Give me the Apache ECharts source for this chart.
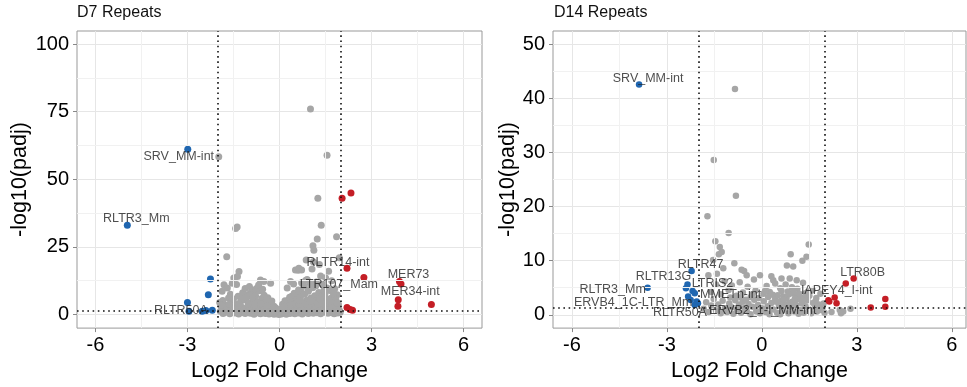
<!DOCTYPE html>
<html>
<head>
<meta charset="utf-8">
<script src="https://cdn.jsdelivr.net/npm/echarts@6/dist/echarts.min.js"></script>
<style>
html, body { margin: 0; padding: 0; background: #fff; }
#main { width: 967px; height: 387px; }
</style>
</head>
<body>
<div id="main"></div>
<script>
// ---- data ----
const xTicks = [-6, -3, 0, 3, 6];
const xMinor = [-4.5, -1.5, 1.5, 4.5];
const d7YTicks = [0, 25, 50, 75, 100];
const d7YMinor = [12.5, 37.5, 62.5, 87.5];
const d14YTicks = [0, 10, 20, 30, 40, 50];
const d14YMinor = [5, 15, 25, 35, 45];
const lfcCut = 2;
const padjCut = 1.3; // -log10(0.05)

const d7Grey = [
	[1.01,76.0],[1.55,58.9],[-1.98,58.3],[1.25,43.0],[1.36,33.0],[1.23,27.9],[1.86,28.8],[1.09,25.4],[1.12,23.8],
	[-1.43,31.8],[-1.38,32.4],[-1.72,21.4],[-1.32,15.9],[-1.37,14.1],[-1.40,11.1],[0.61,16.4],[0.72,16.5],[0.46,11.3],
	[0.87,20.2],[1.06,16.8],[1.34,14.3],[1.6,16.0],[1.95,21.0],[1.1,19.5],[1.3,18.5],[1.7,12.5],[1.5,13.6],[1.8,9.5],
	[1.2,12.0],[-0.62,12.8],[-0.51,12.2],[-0.29,11.6],[-0.89,9.2],[-0.73,9.8],[-0.8,8.5],[-0.95,8.0],[-1.1,7.2],
	[-1.49,13.5],[-1.54,11.6],[-1.81,11.0],[-1.87,8.6],[-1.95,4.5],[-1.7,9.8],[-1.6,7.5],[0.52,16.5],[0.63,17.1],
	[0.36,12.2],[0.25,9.8],[1.55,9.8],[1.88,7.3],[1.77,4.9],[0.9,13.0],[0.8,10.5],[0.95,9.2],[1.0,11.5],[0.7,8.5],
	[0.55,7.5],[0.4,6.8],[0.3,5.5],[0.2,4.6],[0.1,3.8],
	[-1.85,5.2],[-1.78,3.6],[-1.66,6.1],[-1.58,4.4],[-1.5,5.8],[-1.42,3.9],[-1.35,6.8],[-1.27,4.7],[-1.2,8.1],
	[-1.15,5.5],[-1.05,6.6],[-1.0,4.2],[-0.92,7.4],[-0.85,5.1],[-0.78,6.9],[-0.7,4.6],[-0.64,8.8],[-0.58,5.9],
	[-0.5,7.1],[-0.45,4.3],[-0.38,6.2],[-0.32,3.7],[-0.25,5.0],[-0.18,3.1],[-1.12,9.6],[-0.98,10.4],[-0.68,10.9],
	[-0.55,9.4],[0.12,3.4],[0.18,5.1],[0.26,4.1],[0.33,6.4],[0.41,4.8],[0.48,7.9],[0.56,5.6],[0.62,9.1],[0.68,6.3],
	[0.75,4.4],[0.82,7.6],[0.88,5.3],[0.94,8.6],[1.02,6.1],[1.08,9.9],[1.15,7.0],[1.22,5.2],[1.28,8.2],[1.35,6.5],
	[1.42,4.6],[1.48,7.4],[1.56,5.8],[1.63,8.9],[1.7,6.2],[1.76,7.8],[1.84,5.4],[1.92,3.8],[0.72,11.8],[0.85,12.6],
	[1.18,10.6],[1.4,11.2],[1.45,9.0],
	[-1.93,1.2],[-1.88,2.6],[-1.84,0.4],[-1.8,1.9],[-1.75,0.9],[-1.71,2.9],[-1.67,1.4],[-1.62,0.3],[-1.58,2.2],
	[-1.54,1.0],[-1.49,3.1],[-1.45,0.6],[-1.41,1.7],[-1.37,2.5],[-1.33,0.2],[-1.29,1.3],[-1.24,2.8],[-1.2,0.8],
	[-1.16,1.9],[-1.12,0.4],[-1.08,2.4],[-1.04,1.1],[-0.99,3.0],[-0.95,0.5],[-0.91,1.6],[-0.87,2.3],[-0.83,0.1],
	[-0.79,1.2],[-0.74,2.7],[-0.7,0.7],[-0.66,1.8],[-0.62,0.3],[-0.58,2.1],[-0.54,1.0],[-0.5,2.9],[-0.46,0.4],
	[-0.42,1.5],[-0.38,2.4],[-0.34,0.2],[-0.3,1.1],[-0.26,0.6],[-0.22,1.9],[-0.18,0.1],[-0.14,1.0],[-0.1,0.3],
	[-0.06,1.5],[-0.02,0.0],[0.02,0.8],[0.06,0.2],[0.1,1.3],[0.14,0.5],[0.18,2.0],[0.22,0.1],[0.26,1.1],[0.3,2.6],
	[0.34,0.4],[0.38,1.6],[0.42,0.9],[0.46,2.8],[0.5,0.3],[0.54,1.4],[0.58,2.2],[0.62,0.6],[0.66,1.7],[0.7,3.1],
	[0.74,0.2],[0.78,1.2],[0.82,2.5],[0.86,0.8],[0.9,1.9],[0.94,0.4],[0.98,2.9],[1.02,1.0],[1.06,2.1],[1.1,0.5],
	[1.14,1.6],[1.18,3.0],[1.22,0.7],[1.26,1.8],[1.3,2.6],[1.34,0.3],[1.38,1.3],[1.42,2.3],[1.46,0.9],[1.5,1.7],
	[1.54,3.0],[1.58,0.5],[1.62,1.4],[1.66,2.4],[1.7,0.8],[1.74,1.9],[1.78,0.3],[1.82,1.2],[1.86,2.7],[1.9,0.6],
	[1.95,1.6],[1.98,0.9],
	[-1.9,3.4],[-1.64,3.8],[-1.31,3.5],[-1.02,3.9],[-0.8,3.6],[-0.61,4.0],[-0.4,3.4],[-0.12,2.4],[0.04,2.0],
	[0.16,3.0],[0.36,3.6],[0.52,4.0],[0.64,3.7],[0.8,4.1],[0.96,3.6],[1.12,4.2],[1.26,3.8],[1.44,3.9],[1.6,4.3],
	[1.72,3.5],[1.88,4.4],[-1.22,5.9],[-0.88,6.3],[-0.42,5.6],[0.66,5.2],[1.0,5.0],[1.32,5.7],[1.64,5.0]
];
const d7Down = [[-2.99,61.1],[-4.96,33.0],[-2.25,13.1],[-2.32,7.3],[-3.0,4.5],[-2.95,1.2],[-2.52,1.2],[-2.19,1.6],[-2.4,1.5]];
const d7Up = [[2.04,43.0],[2.33,44.9],[2.2,17.1],[2.75,13.7],[3.91,12.2],[3.96,11.3],[3.87,5.5],[3.86,3.1],[4.95,3.7],[2.2,2.6],[2.3,1.9],[2.38,1.6]];
const d7Labels = [
	["SRV_MM-int", -2.99, 61.1], ["RLTR3_Mm", -4.96, 33.0], ["RLTR14-int", 2.2, 17.1],
	["LTR107_Mam", 2.75, 13.7], ["MER73", 3.91, 12.2], ["MER34-int", 3.87, 5.5], ["RLTR50A", -2.4, 1.5]
];

const d14Grey = [
	[-0.85,41.7],[-1.52,28.6],[-0.82,22.0],[-1.72,18.2],[-1.47,13.6],[-1.05,15.1],[-1.33,12.5],[1.48,13.0],[0.91,11.2],
	[1.28,10.0],[0.79,9.1],[-0.87,9.5],[-1.36,11.2],[-1.54,10.1],[-0.56,8.1],[-1.27,11.6],[-0.64,8.3],[-0.48,7.3],
	[0.99,8.9],[1.41,10.7],[-0.06,7.3],[0.36,6.4],[0.62,6.7],[0.88,6.7],[-1.69,7.3],[-1.42,7.6],[-1.22,8.6],
	[-1.6,4.2],[-1.45,5.6],[-1.3,3.8],[-1.18,6.2],[-1.05,4.6],[-0.95,5.4],[-0.8,3.5],[-0.7,6.0],[-0.6,4.1],
	[-0.45,5.2],[-0.35,3.3],[-0.2,4.5],[-0.1,3.1],[0.05,3.9],[0.15,5.3],[0.25,4.2],[0.42,5.8],[0.5,3.6],[0.58,4.9],
	[0.68,3.4],[0.75,5.6],[0.82,4.3],[0.95,5.1],[1.05,3.7],[1.12,4.8],[1.22,3.2],[1.3,5.9],[1.38,4.0],[1.5,3.5],
	[1.6,4.6],[1.72,3.1],[1.85,3.9],[1.95,2.1],[-0.25,6.5],[0.3,7.1],[1.1,6.4],
	[-1.84,1.1],[-1.76,2.3],[-1.68,0.5],[-1.6,1.7],[-1.52,2.9],[-1.45,0.8],[-1.38,1.9],[-1.3,0.3],[-1.24,2.6],
	[-1.17,1.2],[-1.1,0.5],[-1.03,2.1],[-0.96,1.4],[-0.9,0.2],[-0.84,2.7],[-0.78,1.0],[-0.72,1.9],[-0.66,0.4],
	[-0.6,2.4],[-0.54,1.3],[-0.48,0.7],[-0.42,2.0],[-0.36,0.1],[-0.3,1.5],[-0.24,2.8],[-0.18,0.6],[-0.12,1.8],
	[-0.06,0.3],[0.0,1.2],[0.06,2.5],[0.12,0.5],[0.18,1.6],[0.24,0.1],[0.3,2.2],[0.36,1.0],[0.42,2.9],[0.48,0.4],
	[0.54,1.7],[0.6,2.6],[0.66,0.8],[0.72,1.9],[0.78,3.1],[0.84,0.3],[0.9,1.4],[0.96,2.4],[1.02,0.6],[1.08,1.8],
	[1.14,2.9],[1.2,0.9],[1.26,2.1],[1.32,0.4],[1.38,1.6],[1.44,2.7],[1.5,1.0],[1.56,0.3],[1.62,2.2],[1.68,1.3],
	[1.74,0.6],[1.8,1.9],[1.86,0.9],[1.92,1.4],[1.98,0.4],[2.2,0.5],[2.46,0.9],[2.57,0.6],[2.8,1.1],[2.5,0.3],
	[-0.02,0.7],[0.2,3.3],[0.58,0.1],[0.88,2.2],[1.16,0.2],[-0.5,2.8],[-1.0,3.2],[1.7,2.6],
	[0.1,4.4],[0.34,3.7],[0.62,4.4],[0.86,3.8],[1.0,4.4],[1.18,3.9],[1.34,3.0],[1.46,4.3],[0.46,2.4],[0.7,2.8],
	[1.04,2.9],[1.28,2.6],[-0.3,3.8],[-0.66,3.2]
];
const d14Down = [[-3.88,42.5],[-3.61,5.0],[-2.22,8.1],[-2.35,5.6],[-2.4,4.9],[-2.19,4.4],[-2.12,4.0],[-2.33,3.4],[-2.25,2.75],[-2.06,2.45],[-2.02,2.15],[-2.12,1.83]];
const d14Up = [[2.9,6.7],[2.65,5.8],[2.3,3.2],[2.13,2.45],[2.36,2.15],[2.1,2.7],[3.9,2.9],[3.9,1.5],[3.44,1.35]];
const d14Labels = [
	["SRV_MM-int", -3.88, 42.5], ["RLTR47", -2.22, 8.1], ["RLTR13G", -2.35, 5.6], ["LTRIS2", -2.19, 4.4],
	["RLTR3_Mm", -3.61, 5.0], ["ERVB4_1C-LTR_Mm", -2.33, 3.4], ["MMETn-int", -2.25, 2.75], ["RLTR50A", -2.02, 2.15],
	["ERVB2_1-I_MM-int", -2.12, 1.83], ["LTR80B", 2.9, 6.7], ["IAPEY4_I-int", 2.3, 3.2]
];

// label placement (pixel offsets from the point)
const d7Offsets = {
	"SRV_MM-int": [-9, 7], "RLTR3_Mm": [9, -7], "RLTR14-int": [-9, -6], "LTR107_Mam": [-25, 7],
	"MER73": [9, -7], "MER34-int": [12, -8], "RLTR50A": [-25, 0]
};
const d14Offsets = {
	"SRV_MM-int": [9, -6], "RLTR47": [9, -6], "RLTR13G": [-24, -8], "LTRIS2": [20, -7],
	"RLTR3_Mm": [-35, 2], "ERVB4_1C-LTR_Mm": [-55, 6], "MMETn-int": [40, -5], "RLTR50A": [-18, 9],
	"ERVB2_1-I_MM-int": [68, 6], "LTR80B": [9, -6], "IAPEY4_I-int": [2, -7]
};

const FONT = "'Liberation Sans', Arial, Helvetica, sans-serif";
const GREY = "#a6a6a6";
const BLUE = "#1f66b0";
const RED = "#c41e26";

var chart = echarts.init(document.getElementById("main"));

function xAxisFor(idx, max) {
	return {
		type: "value",
		gridIndex: idx,
		min: -6.6,
		max: max,
		name: "Log2 Fold Change",
		nameLocation: "middle",
		nameGap: 28,
		nameTextStyle: { fontSize: 21.5, color: "#000", fontFamily: FONT },
		axisLine: { show: false, onZero: false },
		axisTick: { show: true, customValues: xTicks, length: 4, lineStyle: { color: "#888" } },
		axisLabel: { customValues: xTicks, fontSize: 20, color: "#000", fontFamily: FONT, margin: 7 },
		splitLine: { show: true, lineStyle: { color: "#e6e6e6", width: 1 } },
	};
}

function yAxisFor(idx, min, max, ticks, gap) {
	return {
		type: "value",
		gridIndex: idx,
		min: min,
		max: max,
		name: "-log10(padj)",
		nameLocation: "middle",
		nameGap: gap,
		nameTextStyle: { fontSize: 21.5, color: "#000", fontFamily: FONT },
		axisLine: { show: false, onZero: false },
		axisTick: { show: true, customValues: ticks, length: 4, lineStyle: { color: "#888" } },
		axisLabel: { customValues: ticks, fontSize: 20, color: "#000", fontFamily: FONT, margin: 8 },
		splitLine: { show: true, lineStyle: { color: "#e6e6e6", width: 1 } },
	};
}

function panelSeries(idx, grey, down, up, labels, offsets, yMinor, size) {
	const minorLines = xMinor.map((v) => ({ xAxis: v })).concat(yMinor.map((v) => ({ yAxis: v })));
	return [
		{
			type: "scatter", xAxisIndex: idx, yAxisIndex: idx, data: [], z: 1,
			markLine: {
				silent: true, symbol: ["none", "none"], animation: false, label: { show: false },
				lineStyle: { color: "#f1f1f1", width: 1, type: "solid" },
				data: minorLines,
			},
		},
		{ type: "scatter", xAxisIndex: idx, yAxisIndex: idx, data: grey, symbolSize: size, itemStyle: { color: GREY, opacity: 1 }, z: 3 },
		{ type: "scatter", xAxisIndex: idx, yAxisIndex: idx, data: down, symbolSize: size, itemStyle: { color: BLUE, opacity: 1 }, z: 4 },
		{ type: "scatter", xAxisIndex: idx, yAxisIndex: idx, data: up, symbolSize: size, itemStyle: { color: RED, opacity: 1 }, z: 4 },
		{
			type: "scatter", xAxisIndex: idx, yAxisIndex: idx, z: 6, symbolSize: 0,
			data: labels.map((l) => ({
				name: l[0], value: [l[1], l[2]],
				label: { offset: offsets[l[0]] },
			})),
			label: {
				show: true, position: "inside", formatter: "{b}",
				fontSize: 12.5, color: "#222", fontFamily: FONT,
			},
		},
		{
			type: "scatter", xAxisIndex: idx, yAxisIndex: idx, data: [], z: 5,
			markLine: {
				silent: true, symbol: ["none", "none"], animation: false, label: { show: false },
				lineStyle: { color: "#111", width: 1.6, type: [1.6, 3.6] },
				data: [{ xAxis: -lfcCut }, { xAxis: lfcCut }, { yAxis: padjCut }],
			},
		},
	];
}

var option = {
	backgroundColor: "#fff",
	animation: false,
	textStyle: { fontFamily: FONT },
	title: [
		{ text: "D7 Repeats", left: 77, top: 5, padding: 0, textStyle: { fontSize: 16, fontWeight: "normal", color: "#111", fontFamily: FONT } },
		{ text: "D14 Repeats", left: 554, top: 5, padding: 0, textStyle: { fontSize: 16, fontWeight: "normal", color: "#111", fontFamily: FONT } },
	],
	grid: [
		{ left: 77, top: 31, width: 405, height: 299, show: true, borderColor: "#999", borderWidth: 1, backgroundColor: "transparent" },
		{ left: 553, top: 31, width: 413, height: 299, show: true, borderColor: "#999", borderWidth: 1, backgroundColor: "transparent" },
	],
	xAxis: [xAxisFor(0, 6.6), xAxisFor(1, 6.45)],
	yAxis: [yAxisFor(0, -5, 104.8, d7YTicks, 46), yAxisFor(1, -2.45, 52.4, d14YTicks, 31)],
	series: panelSeries(0, d7Grey, d7Down, d7Up, d7Labels, d7Offsets, d7YMinor, 7)
		.concat(panelSeries(1, d14Grey, d14Down, d14Up, d14Labels, d14Offsets, d14YMinor, 6.5)),
};

chart.setOption(option);
</script>
</body>
</html>
